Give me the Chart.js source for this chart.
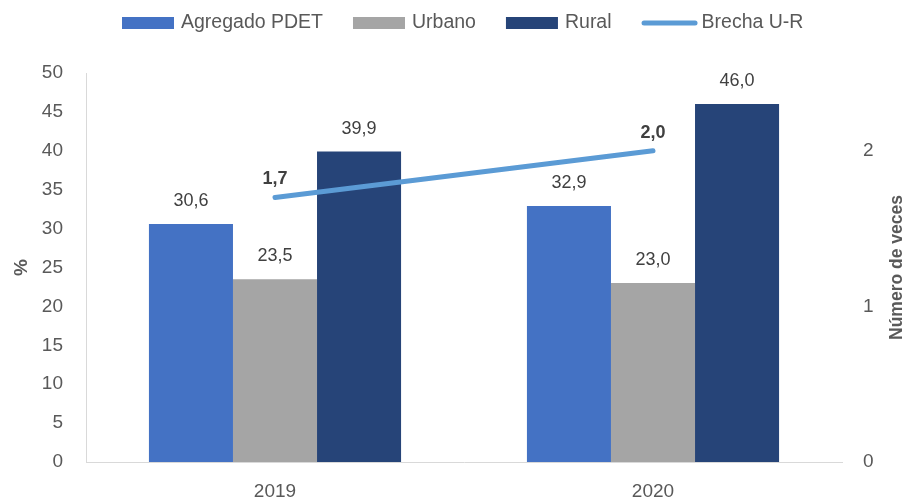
<!DOCTYPE html>
<html><head><meta charset="utf-8">
<script src="https://cdn.jsdelivr.net/npm/chart.js@4"></script>
<style>html,body{margin:0;padding:0;background:#fff}#wrap{width:904px;height:502px}</style>
</head><body><div id="wrap"><canvas id="c" width="904" height="502"></canvas></div>
<script>
const categories = ['2019', '2020'];
const agregadoPDET = [30.6, 32.9];
const urbano = [23.5, 23.0];
const rural = [39.9, 46.0];
const brechaUR = [1.7, 2.0];
const seriesNames = ['Agregado PDET', 'Urbano', 'Rural', 'Brecha U-R'];
const leftAxisTitle = '%';
const rightAxisTitle = 'Número de veces';

const FONT = "'Liberation Sans', Arial, sans-serif";
const GREY = '#595959';
const LABEL = '#404040';
const fmt = v => v.toFixed(1).replace('.', ',');

const legendPlugin = {
  id: 'customLegend',
  afterDraw(chart) {
    const ctx = chart.ctx;
    ctx.save();
    ctx.font = '19.5px ' + FONT;
    ctx.textBaseline = 'middle';
    ctx.textAlign = 'left';
    let x = 122; const cy = 23;
    chart.data.datasets.forEach(ds => {
      if (ds.type === 'line') {
        ctx.strokeStyle = ds.borderColor; ctx.lineWidth = 5; ctx.lineCap = 'round';
        ctx.beginPath(); ctx.moveTo(x + 2.5, cy); ctx.lineTo(x + 53.5, cy); ctx.stroke();
        x += 56 + 4;
      } else {
        ctx.fillStyle = ds.backgroundColor; ctx.fillRect(x, cy - 6, 52, 12);
        x += 52 + 7;
      }
      ctx.fillStyle = GREY;
      ctx.fillText(ds.label, x, cy);
      x += ctx.measureText(ds.label).width + 30;
    });
    ctx.restore();
  }
};

const labelsPlugin = {
  id: 'valueLabels',
  afterDatasetsDraw(chart) {
    const ctx = chart.ctx;
    ctx.save();
    ctx.textAlign = 'center';
    ctx.textBaseline = 'middle';
    chart.data.datasets.forEach((ds, i) => {
      const meta = chart.getDatasetMeta(i);
      meta.data.forEach((el, j) => {
        const v = ds.data[j];
        if (ds.type === 'line') {
          ctx.font = 'bold 18px ' + FONT; ctx.fillStyle = LABEL;
          ctx.fillText(fmt(v), el.x, el.y - 18);
        } else {
          ctx.font = '18px ' + FONT; ctx.fillStyle = LABEL;
          ctx.fillText(fmt(v), el.x, el.y - 23);
        }
      });
    });
    ctx.restore();
  },
  afterDraw(chart) {
    const ctx = chart.ctx; const a = chart.chartArea;
    const cy = (a.top + a.bottom) / 2;
    ctx.save();
    ctx.fillStyle = GREY; ctx.textAlign = 'center'; ctx.textBaseline = 'alphabetic';
    ctx.font = 'bold 19px ' + FONT;
    ctx.translate(27, cy); ctx.rotate(-Math.PI / 2); ctx.fillText(leftAxisTitle, 0, 0);
    ctx.restore();
    ctx.save();
    ctx.fillStyle = GREY; ctx.textAlign = 'center'; ctx.textBaseline = 'alphabetic';
    ctx.font = 'bold 17.5px ' + FONT;
    ctx.translate(902, cy); ctx.rotate(-Math.PI / 2); ctx.fillText(rightAxisTitle, 0, 0);
    ctx.restore();
  }
};

new Chart(document.getElementById('c'), {
  data: {
    labels: categories,
    datasets: [
      { type: 'bar', label: seriesNames[0], data: agregadoPDET, backgroundColor: '#4472C4', yAxisID: 'y', order: 1 },
      { type: 'bar', label: seriesNames[1], data: urbano, backgroundColor: '#A5A5A5', yAxisID: 'y', order: 1 },
      { type: 'bar', label: seriesNames[2], data: rural, backgroundColor: '#264478', yAxisID: 'y', order: 1 },
      { type: 'line', label: seriesNames[3], data: brechaUR, borderColor: '#5B9BD5', backgroundColor: '#5B9BD5',
        borderWidth: 5, borderCapStyle: 'round', pointRadius: 0, pointHoverRadius: 0, yAxisID: 'y1', order: 0 }
    ]
  },
  options: {
    responsive: false,
    animation: false,
    events: [],
    categoryPercentage: 0.667,
    barPercentage: 1.0,
    layout: { padding: { top: 73, left: 0, right: 0, bottom: 0 } },
    plugins: { legend: { display: false }, tooltip: { enabled: false } },
    datasets: { bar: { categoryPercentage: 0.667, barPercentage: 1.0 } },
    scales: {
      x: {
        grid: { display: false, drawTicks: false },
        border: { display: true, color: '#D9D9D9', width: 1 },
        ticks: { padding: 18, color: GREY, font: { family: FONT, size: 19 } },
        afterFit: s => { s.height = 40; }
      },
      y: {
        position: 'left', min: 0, max: 50,
        grid: { display: false, drawTicks: false },
        border: { display: true, color: '#D9D9D9', width: 1 },
        ticks: { stepSize: 5, padding: 23, color: GREY, font: { family: FONT, size: 19 } },
        afterFit: s => { s.width = 86; }
      },
      y1: {
        position: 'right', min: 0, max: 2.5,
        grid: { display: false, drawTicks: false },
        border: { display: false },
        ticks: { stepSize: 1, includeBounds: false, padding: 21, color: GREY, font: { family: FONT, size: 19 } },
        afterFit: s => { s.width = 62; }
      }
    }
  },
  plugins: [labelsPlugin, legendPlugin]
});
</script>
</body></html>
